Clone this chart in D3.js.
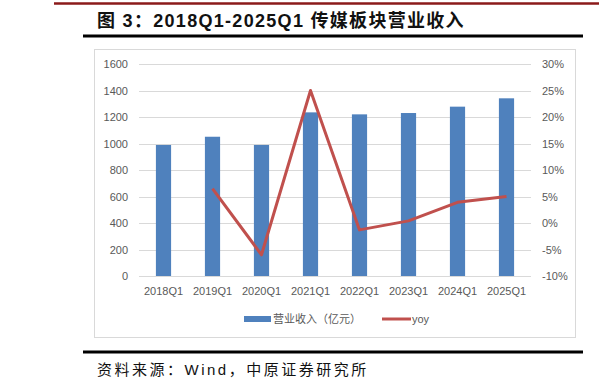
<!DOCTYPE html>
<html>
<head>
<meta charset="utf-8">
<script src="https://cdn.jsdelivr.net/npm/d3@7/dist/d3.min.js"></script>
<style>
  body { margin: 0; background: #fff; }
  svg { display: block; }
</style>
</head>
<body>
<div id="chart"></div>
<script>
const categories = ["2018Q1", "2019Q1", "2020Q1", "2021Q1", "2022Q1", "2023Q1", "2024Q1", "2025Q1"];
// 营业收入（亿元）
const revenue = [989, 1051, 989, 1235, 1220, 1230, 1278, 1341];
// yoy, null where no prior year
const yoy = [null, 0.065, -0.060, 0.250, -0.013, 0.004, 0.039, 0.050];
const leftTicks = [0, 200, 400, 600, 800, 1000, 1200, 1400, 1600];
const rightTicks = [-0.10, -0.05, 0, 0.05, 0.10, 0.15, 0.20, 0.25, 0.30];

const width = 599, height = 389;
const plot = { left: 139, right: 531, top: 64, bottom: 276 };
const grey = "#595959";
const axisFont = "'Liberation Sans', Arial, sans-serif";
const cjkFont = "'Liberation Sans', 'Noto Sans CJK SC', sans-serif";

const svg = d3.select("#chart")
    .append("svg")
    .attr("width", width)
    .attr("height", height);

// header rules + title
svg.append("line")
    .attr("x1", 54).attr("x2", width)
    .attr("y1", 3.5).attr("y2", 3.5)
    .attr("stroke", "#8b1a1a").attr("stroke-width", 2.5);

svg.append("text")
    .attr("x", 97).attr("y", 27)
    .style("font-family", cjkFont)
    .style("font-weight", "bold")
    .style("font-size", "18px")
    .style("letter-spacing", "1.3px")
    .attr("fill", "#111")
    .text("图 3：2018Q1-2025Q1 传媒板块营业收入");

svg.append("line")
    .attr("x1", 83).attr("x2", 583)
    .attr("y1", 36).attr("y2", 36)
    .attr("stroke", "#000").attr("stroke-width", 3);

// chart frame
svg.append("rect")
    .attr("x", 94.5).attr("y", 49.5)
    .attr("width", 481).attr("height", 288)
    .attr("fill", "none")
    .attr("stroke", "#d9d9d9");

const x = d3.scaleBand()
    .domain(categories)
    .range([plot.left, plot.right])
    .paddingInner(0.69)
    .paddingOuter(0.345);

const yLeft = d3.scaleLinear()
    .domain([0, 1600])
    .range([plot.bottom, plot.top]);

const yRight = d3.scaleLinear()
    .domain([-0.10, 0.30])
    .range([plot.bottom, plot.top]);

// gridlines
svg.append("g")
    .selectAll("line")
    .data(leftTicks)
    .enter()
    .append("line")
    .attr("x1", plot.left).attr("x2", plot.right)
    .attr("y1", d => Math.round(yLeft(d)) + 0.5)
    .attr("y2", d => Math.round(yLeft(d)) + 0.5)
    .attr("stroke", "#d9d9d9")
    .attr("stroke-width", 1);

// left axis
const leftAxis = d3.axisLeft(yLeft).tickValues(leftTicks).tickSize(0).tickPadding(0)
    .tickFormat(d3.format("d"));
svg.append("g")
    .attr("transform", "translate(128, 0)")
    .call(leftAxis)
    .call(g => g.select(".domain").remove())
    .selectAll("text")
    .style("font-family", axisFont)
    .style("font-size", "11px")
    .attr("fill", grey);

// right axis
const rightAxis = d3.axisRight(yRight).tickValues(rightTicks).tickSize(0).tickPadding(0)
    .tickFormat(d => Math.round(d * 100) + "%");
svg.append("g")
    .attr("transform", "translate(542, 0)")
    .call(rightAxis)
    .call(g => g.select(".domain").remove())
    .selectAll("text")
    .style("font-family", axisFont)
    .style("font-size", "11px")
    .attr("fill", grey);

// bars
svg.append("g")
    .selectAll("rect")
    .data(revenue)
    .enter()
    .append("rect")
    .attr("x", (d, i) => x(categories[i]))
    .attr("y", d => yLeft(d))
    .attr("width", x.bandwidth())
    .attr("height", d => yLeft(0) - yLeft(d))
    .attr("fill", "#4f81bd");

// bottom axis
const bottomAxis = d3.axisBottom(x).tickSize(0).tickPadding(11);
svg.append("g")
    .attr("transform", `translate(0, ${plot.bottom})`)
    .call(bottomAxis)
    .call(g => g.select(".domain").remove())
    .selectAll("text")
    .style("font-family", axisFont)
    .style("font-size", "11px")
    .attr("fill", grey);

// yoy line
const line = d3.line()
    .defined(d => d.v !== null)
    .x(d => x(d.c) + x.bandwidth() / 2)
    .y(d => yRight(d.v));

svg.append("path")
    .datum(categories.map((c, i) => ({ c: c, v: yoy[i] })))
    .attr("d", line)
    .attr("fill", "none")
    .attr("stroke", "#c0504d")
    .attr("stroke-width", 3)
    .attr("stroke-linejoin", "round");

// legend
const legend = svg.append("g");
legend.append("rect")
    .attr("x", 244).attr("y", 316)
    .attr("width", 27).attr("height", 6)
    .attr("fill", "#4f81bd");
legend.append("text")
    .attr("x", 273).attr("y", 319)
    .attr("dy", "0.35em")
    .style("font-family", cjkFont)
    .style("font-size", "11px")
    .attr("fill", grey)
    .text("营业收入（亿元）");
legend.append("line")
    .attr("x1", 382).attr("x2", 411)
    .attr("y1", 319).attr("y2", 319)
    .attr("stroke", "#c0504d")
    .attr("stroke-width", 3);
legend.append("text")
    .attr("x", 412).attr("y", 319)
    .attr("dy", "0.35em")
    .style("font-family", axisFont)
    .style("font-size", "11px")
    .attr("fill", grey)
    .text("yoy");

// footer
svg.append("line")
    .attr("x1", 83).attr("x2", 583)
    .attr("y1", 352).attr("y2", 352)
    .attr("stroke", "#000").attr("stroke-width", 3);

svg.append("text")
    .attr("x", 97).attr("y", 375)
    .style("font-family", cjkFont)
    .style("font-size", "15px")
    .style("letter-spacing", "2.5px")
    .attr("fill", "#111")
    .text("资料来源：Wind，中原证券研究所");
</script>
</body>
</html>
